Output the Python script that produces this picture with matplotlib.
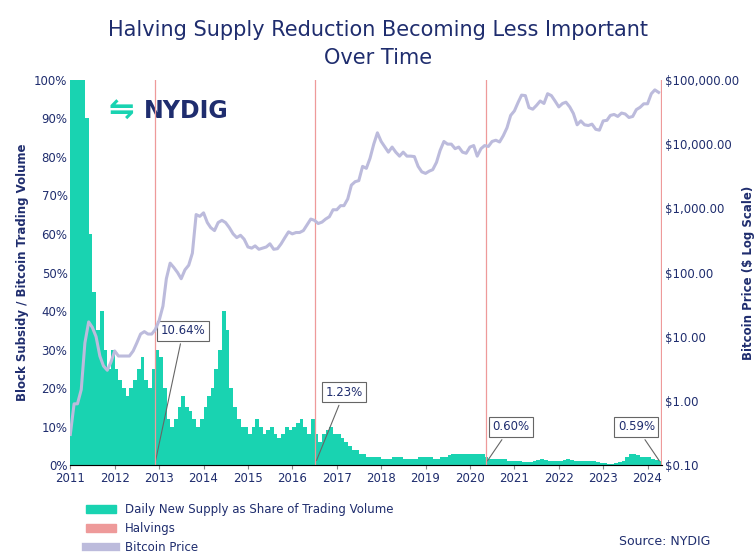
import numpy as np
import pandas as pd
import matplotlib.pyplot as plt
import matplotlib.patches as mpatches
from matplotlib.lines import Line2D

# monthly values, Jan 2011 .. Apr 2024
supply_pct = [
    100, 100, 100, 100, 90, 60, 45, 35, 40, 30, 25, 30,
    25, 22, 20, 18, 20, 22, 25, 28, 22, 20, 25, 30,
    28, 20, 12, 10, 12, 15, 18, 15, 14, 12, 10, 12,
    15, 18, 20, 25, 30, 40, 35, 20, 15, 12, 10, 10,
    8, 10, 12, 10, 8, 9, 10, 8, 7, 8, 10, 9,
    10, 11, 12, 10, 8, 12, 8, 6, 8, 9, 10, 8,
    8, 7, 6, 5, 4, 4, 3, 3, 2, 2, 2, 2,
    1.5, 1.5, 1.5, 2, 2, 2, 1.5, 1.5, 1.5, 1.5, 2, 2,
    2, 2, 1.5, 1.5, 2, 2, 2.5, 3, 3, 3, 3, 3,
    3, 3, 3, 3, 2, 1.5, 1.5, 1.5, 1.5, 1.5, 1, 1,
    1, 1, 0.8, 0.8, 0.8, 1, 1.2, 1.5, 1.2, 1, 1, 1,
    1, 1.2, 1.5, 1.2, 1, 1, 1, 1, 1, 1, 0.8, 0.5,
    0.5, 0.4, 0.3, 0.5, 0.8, 1, 2, 3, 3, 2.5, 2, 2,
    2, 1.5, 1.2, 1,
]
btc_price = [
    0.3, 0.9, 0.9, 1.5, 8, 17, 14, 10, 5, 3.5, 3, 4,
    6, 5, 5, 5, 5, 6, 8, 11, 12, 11, 11, 13,
    18, 30, 80, 140, 120, 100, 80, 110, 130, 200, 800, 750,
    850, 600, 500, 450, 600, 650, 600, 500, 400, 350, 380, 330,
    250, 240, 260, 230, 240, 250, 280, 230, 235, 280, 350, 430,
    400, 420, 420, 450, 550, 680, 650, 580, 610, 680, 740, 950,
    950, 1100, 1100, 1400, 2300, 2600, 2700, 4500, 4200, 6000, 10000, 15000,
    11000, 9000, 7500, 9000, 7500, 6500, 7500, 6500, 6500, 6400, 4500, 3700,
    3500, 3800, 4000, 5200, 8000, 11000, 10000, 10000, 8500, 9000, 7500, 7200,
    9000, 9500, 6500, 8500, 9500, 9200, 11000, 11500, 10800, 13500, 18000, 28000,
    33000, 45000, 58000, 57000, 37000, 35000, 40000, 47000, 43000, 61000, 57000, 47000,
    38000, 43000, 45000, 38000, 30000, 20000, 23000, 20000, 19500, 20500, 17000, 16500,
    23000, 23500, 28000, 29000, 27000, 30500, 29500, 26000, 27000, 34500, 37500, 42500,
    42500, 61000, 70000, 64000,
]
halving_dates = ['2012-11-28', '2016-07-09', '2020-05-11', '2024-04-20']
halving_labels = ['10.64%', '1.23%', '0.60%', '0.59%']
label_pos = [('2013-01-15', 34), ('2016-10-01', 18), ('2020-07-01', 9), ('2023-05-01', 9)]

navy = '#1f2d6e'
teal = '#19d3b1'
pink = '#ee9a9a'
lav = '#bcbbdc'

dates = pd.date_range('2011-01-01', periods=len(supply_pct), freq='MS')

fig = plt.figure(figsize=(7.56, 5.59), dpi=100)
ax = fig.add_axes([0.093, 0.168, 0.783, 0.689])
ax2 = ax.twinx()

ax.bar(dates, supply_pct, width=31, color=teal, align='edge', zorder=2)
for d in halving_dates:
    ax2.axvline(pd.Timestamp(d), color=pink, lw=0.9, zorder=1)
ax2.plot(dates, btc_price, color=lav, lw=2.2, zorder=3)
ax2.set_yscale('log')
ax2.set_ylim(0.1, 100000)
ax2.set_yticks([0.1, 1, 10, 100, 1000, 10000, 100000])
ax2.set_yticklabels(['$0.10', '$1.00', '$10.00', '$100.00', '$1,000.00',
                     '$10,000.00', '$100,000.00'], color=navy, fontsize=8.5)
ax2.minorticks_off()
ax2.set_ylabel('Bitcoin Price ($ Log Scale)', color=navy, fontsize=8.5,
               fontweight='bold', labelpad=2)

ax.set_ylim(0, 100)
ax.set_xlim(pd.Timestamp('2011-01-01'), pd.Timestamp('2024-05-01'))
ax.set_yticks(range(0, 101, 10))
ax.set_yticklabels([f'{v}%' for v in range(0, 101, 10)], color=navy, fontsize=8.5)
ax.set_xticks(pd.date_range('2011-01-01', '2024-01-01', freq='YS'))
ax.set_xticklabels([str(y) for y in range(2011, 2025)], color=navy, fontsize=8.5)
ax.set_ylabel('Block Subsidy / Bitcoin Trading Volume', color=navy, fontsize=8.5, fontweight='bold')
for a in (ax, ax2):
    for s in ('top', 'left', 'right'):
        a.spines[s].set_visible(False)
    a.tick_params(length=0, pad=2)
ax.spines['bottom'].set_color('#888888')
ax.tick_params(axis='x', length=3, color='#888888')

for d, lab, (px, py) in zip(halving_dates, halving_labels, label_pos):
    ax.annotate(lab, xy=(pd.Timestamp(d), 0.5), xytext=(pd.Timestamp(px), py),
                fontsize=8.5, color=navy, zorder=5,
                bbox=dict(boxstyle='square,pad=0.3', fc='white', ec='#666666', lw=0.8),
                arrowprops=dict(arrowstyle='-', color='#666666', lw=0.8))

ax.text(0.065, 0.955, '⇋', transform=ax.transAxes, color=teal, fontsize=22,
        fontweight='bold', va='top', ha='left')
ax.text(0.125, 0.95, 'NYDIG', transform=ax.transAxes, color=navy, fontsize=17,
        fontweight='bold', va='top', ha='left')

fig.text(0.5, 0.965, 'Halving Supply Reduction Becoming Less Important\nOver Time',
         ha='center', va='top', color=navy, fontsize=15, linespacing=1.5)

handles = [mpatches.Patch(color=teal), mpatches.Patch(color=pink),
           Line2D([0], [0], color=lav, lw=6)]
fig.legend(handles, ['Daily New Supply as Share of Trading Volume', 'Halvings', 'Bitcoin Price'],
           loc='lower left', bbox_to_anchor=(0.1, -0.01), frameon=False, fontsize=8.5,
           labelcolor=navy, handlelength=2.5, labelspacing=0.5)
fig.text(0.94, 0.025, 'Source: NYDIG', ha='right', color=navy, fontsize=9)

fig.savefig('out.png', dpi=100)
